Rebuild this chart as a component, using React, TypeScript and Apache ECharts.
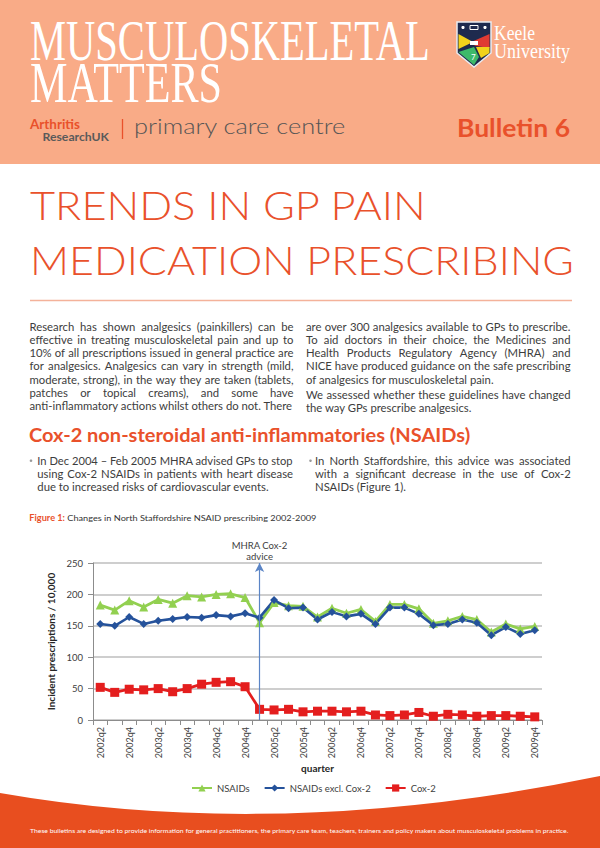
import React, { useEffect, useRef } from 'react';
import * as echarts from 'echarts';

// ---------------- DATA ----------------
const quarters = [
  '2002q2', '2002q3', '2002q4',
  '2003q1', '2003q2', '2003q3', '2003q4',
  '2004q1', '2004q2', '2004q3', '2004q4',
  '2005q1', '2005q2', '2005q3', '2005q4',
  '2006q1', '2006q2', '2006q3', '2006q4',
  '2007q1', '2007q2', '2007q3', '2007q4',
  '2008q1', '2008q2', '2008q3', '2008q4',
  '2009q1', '2009q2', '2009q3', '2009q4',
];
const nsaids = [
  183, 175, 190,
  180, 192, 186, 198,
  196, 200, 201, 195,
  155, 187, 182, 181,
  164, 178, 170, 176,
  157, 184, 184, 177,
  154, 158, 165, 160,
  140, 153, 145, 149,
];
const nsaidsExclCox2 = [
  153, 150, 164,
  153, 158, 161, 164,
  163, 167, 165, 170,
  163, 191, 178, 179,
  160, 172, 165, 169,
  153, 179, 179, 169,
  151, 153, 160, 155,
  135, 148, 137, 143,
];
const cox2 = [
  52, 44, 49,
  48, 50, 45, 50,
  57, 60, 61, 53,
  17, 16, 17, 13,
  14, 14, 13, 14,
  8, 7, 8, 12,
  6, 9, 8, 6,
  7, 7, 6, 5,
];
const seriesNames = ['NSAIDs', 'NSAIDs excl. Cox-2', 'Cox-2'];
const adviceQuarter = '2005q1';
const adviceLabel = 'MHRA Cox-2\nadvice';
const yMin = 0;
const yMax = 250;
const yStep = 50;

// ---------------- TEXTS ----------------
const headerLine1 = 'MUSCULOSKELETAL';
const headerLine2 = 'MATTERS';
const titleLine1 = 'TRENDS IN GP PAIN';
const titleLine2 = 'MEDICATION PRESCRIBING';
const leftParagraph = [
  'Research has shown analgesics (painkillers) can be',
  'effective in treating musculoskeletal pain and up to',
  '10% of all prescriptions issued in general practice are',
  'for analgesics. Analgesics can vary in strength (mild,',
  'moderate, strong), in the way they are taken (tablets,',
  'patches or topical creams), and some have',
  'anti-inflammatory actions whilst others do not. There',
];
const rightParagraph1 = [
  'are over 300 analgesics available to GPs to prescribe.',
  'To aid doctors in their choice, the Medicines and',
  'Health Products Regulatory Agency (MHRA) and',
  'NICE have produced guidance on the safe prescribing',
  'of analgesics for musculoskeletal pain.',
];
const rightParagraph2 = [
  'We assessed whether these guidelines have changed',
  'the way GPs prescribe analgesics.',
];
const sectionHeading = 'Cox-2 non-steroidal anti-inflammatories (NSAIDs)';
const leftBullet = [
  'In Dec 2004 \u2013 Feb 2005 MHRA advised GPs to stop',
  'using Cox-2 NSAIDs in patients with heart disease',
  'due to increased risks of cardiovascular events.',
];
const rightBullet = [
  'In North Staffordshire, this advice was associated',
  'with a significant decrease in the use of Cox-2',
  'NSAIDs (Figure 1).',
];
const captionLabel = 'Figure 1: ';
const captionText = 'Changes in North Staffordshire NSAID prescribing 2002-2009';
const footerText =
  'These bulletins are designed to provide information for general practitioners, the primary care team, teachers, trainers and policy makers about musculoskeletal problems in practice.';

// ---------------- STYLE ----------------
const ORANGE = '#E9512B';
const SALMON = '#F9AB87';
const FOOTER = '#E84E1F';
const BODY = '#3D3D3D';
const SANS = 'Lato';
const SERIF = 'Liberation Serif';

echarts.graphic.registerShape(
  'footerWave',
  echarts.graphic.extendPath('M0 793 Q 280 842 600 776 L 600 848 L 0 848 Z', {})
);

let ctx: CanvasRenderingContext2D | null = null;
function measure(text: string, size: number, family: string, weight: string | number = 'normal') {
  if (!ctx) ctx = document.createElement('canvas').getContext('2d');
  ctx!.font = `${weight} ${size}px "${family}"`;
  return ctx!.measureText(text).width;
}

function txt(text: string, x: number, y: number, size: number, family: string, color: string,
  weight: string | number = 'normal', scaleX = 1, align = 'left') {
  return {
    type: 'text', x, y, scaleX, silent: true,
    style: {
      text, fill: color, fontSize: size, fontFamily: family, fontWeight: weight,
      textAlign: align, textVerticalAlign: 'middle',
    },
  };
}

function fit(text: string, x: number, y: number, width: number, size: number, family: string,
  color: string, weight: string | number = 'normal') {
  const w = measure(text, size, family, weight);
  return txt(text, x, y, size, family, color, weight, width / w);
}

function line(text: string, x: number, y: number, width: number, size: number, justify: boolean): any[] {
  const natural = measure(text, size, SANS);
  if (natural >= width) return [txt(text, x, y, size, SANS, BODY, 'normal', width / natural)];
  if (!justify) return [txt(text, x, y, size, SANS, BODY)];
  const words = text.split(' ');
  const widths = words.map((w) => measure(w, size, SANS));
  const total = widths.reduce((a, b) => a + b, 0);
  const gap = (width - total) / (words.length - 1);
  const out: any[] = [];
  let cx = x;
  words.forEach((w, i) => {
    out.push(txt(w, cx, y, size, SANS, BODY));
    cx += widths[i] + gap;
  });
  return out;
}

function paragraph(lines: string[], x: number, y0: number, step: number, width: number, size: number) {
  const out: any[] = [];
  lines.forEach((l, i) => {
    out.push(...line(l, x, y0 + i * step, width, size, i < lines.length - 1));
  });
  return out;
}

function buildGraphics() {
  const els: any[] = [];
  // header
  els.push({ type: 'rect', shape: { x: 0, y: 0, width: 600, height: 164 }, style: { fill: SALMON }, silent: true });
  els.push(fit(headerLine1, 30, 41, 400, 56, SERIF, '#FFFFFF'));
  els.push(fit(headerLine2, 30, 83, 192, 56, SERIF, '#FFFFFF'));

  // Keele crest
  const sx = 457, sy = 22;
  const P = (pts: number[][]) => pts.map(([a, b]) => [sx + a, sy + b]);
  els.push({ type: 'polygon', shape: { points: P([[0, 0], [34, 0], [34, 31], [17, 45], [0, 31]]) }, style: { fill: '#1E2A4E', stroke: '#E8ECF2', lineWidth: 1.5 }, silent: true });
  els.push({ type: 'polygon', shape: { points: P([[1.5, 12], [16, 20], [1.5, 27]]) }, style: { fill: '#F2D21B' }, silent: true });
  els.push({ type: 'polygon', shape: { points: P([[32.5, 12], [32.5, 26], [19, 24], [12, 21]]) }, style: { fill: '#E03A33' }, silent: true });
  els.push({ type: 'rect', shape: { x: sx + 13, y: sy + 19, width: 8, height: 4 }, style: { fill: '#FFFFFF' }, silent: true });
  els.push({ type: 'polygon', shape: { points: P([[1.5, 30], [17, 25], [22, 35], [17, 43]]) }, style: { fill: '#3DBA6A' }, silent: true });
  els.push({ type: 'polygon', shape: { points: P([[19, 25], [32.5, 25], [32.5, 31], [24, 36]]) }, style: { fill: '#F2D21B' }, silent: true });
  els.push({ type: 'circle', shape: { cx: sx + 6, cy: sy + 5.5, r: 1.6 }, style: { fill: '#FFFFFF' }, silent: true });
  els.push({ type: 'rect', shape: { x: sx + 13, y: sy + 3.5, width: 8, height: 4 }, style: { fill: 'none', stroke: '#FFFFFF', lineWidth: 1 }, silent: true });
  els.push({ type: 'circle', shape: { cx: sx + 28, cy: sy + 5.5, r: 1.6 }, style: { fill: '#FFFFFF' }, silent: true });
  els.push(txt('7', sx + 14, sy + 35, 8, SANS, '#FFFFFF'));
  els.push(fit('Keele', 494, 33, 41, 20, SERIF, '#FFFFFF'));
  els.push(fit('University', 494, 51, 76, 20, SERIF, '#FFFFFF'));

  // Arthritis Research UK | primary care centre
  els.push(fit('Arthritis', 30, 124, 50, 13, SANS, ORANGE, 'bold'));
  els.push(fit('ResearchUK', 42.5, 136.5, 66.5, 12, SANS, '#5A5A5A', 'bold'));
  els.push({ type: 'line', shape: { x1: 122.5, y1: 119, x2: 122.5, y2: 139 }, style: { stroke: ORANGE, lineWidth: 1.3 }, silent: true });
  els.push(fit('primary care centre', 134, 126, 212, 21, SANS, '#555555', 300));
  els.push(fit('Bulletin 6', 457, 127.5, 113, 25, SANS, ORANGE, 'bold'));

  // Title
  els.push(fit(titleLine1, 30, 205, 397, 40, SANS, ORANGE, 300));
  els.push(fit(titleLine2, 30, 260, 544, 40, SANS, ORANGE, 300));
  els.push({ type: 'line', shape: { x1: 30, y1: 300.5, x2: 572, y2: 300.5 }, style: { stroke: '#F4B29A', lineWidth: 1.5 }, silent: true });

  // body text
  const fs = 11 * 262 / measure(rightParagraph1[0], 11, SANS);
  const step = 13.27;
  els.push(...paragraph(leftParagraph, 29.5, 326, step, 264, fs));
  els.push(...paragraph(rightParagraph1, 306, 326, step, 264.5, fs));
  els.push(...paragraph(rightParagraph2, 306, 394, step, 264.5, fs));
  els.push(fit(sectionHeading, 29, 434.5, 441.5, 19, SANS, ORANGE, 'bold'));
  els.push({ type: 'circle', shape: { cx: 31, cy: 460.7, r: 1.3 }, style: { fill: '#9A9A9A' }, silent: true });
  els.push({ type: 'circle', shape: { cx: 310.5, cy: 460.7, r: 1.3 }, style: { fill: '#9A9A9A' }, silent: true });
  els.push(...paragraph(leftBullet, 37.3, 460.7, 12.8, 255.7, fs));
  els.push(...paragraph(rightBullet, 315, 460.7, 12.8, 255.7, fs));

  // caption
  const cw1 = measure(captionLabel, 8.5, SANS, 'bold');
  const cw2 = measure(captionText, 8.5, SANS);
  const cs = 287.4 / (cw1 + cw2);
  els.push(txt(captionLabel, 29.3, 517.7, 8.5, SANS, ORANGE, 'bold', cs));
  els.push(txt(captionText, 29.3 + cw1 * cs, 517.7, 8.5, SANS, '#333333', 'normal', cs));

  // footer
  els.push({ type: 'footerWave', x: 0, y: 0, style: { fill: FOOTER }, silent: true });
  els.push(fit(footerText, 30, 830, 540, 6.5, SANS, '#FFFFFF'));
  return els;
}

function buildOption(): any {
  const axisText = { color: '#404040', fontFamily: SANS, fontSize: 9 };
  return {
    animation: false,
    backgroundColor: '#FFFFFF',
    graphic: { elements: buildGraphics() },
    grid: { left: 93, right: 58, top: 563, bottom: 128, containLabel: false },
    legend: {
      data: seriesNames,
      top: 778,
      left: 186,
      itemWidth: 20,
      itemHeight: 9,
      itemGap: 14,
      textStyle: { fontSize: 9.5, color: '#404040', fontFamily: SANS },
    },
    xAxis: {
      type: 'category',
      data: quarters,
      boundaryGap: true,
      name: 'quarter',
      nameLocation: 'middle',
      nameGap: 43,
      nameTextStyle: { fontWeight: 'bold', fontSize: 10, color: '#262626', fontFamily: SANS },
      axisLine: { show: true, lineStyle: { color: '#8C8C8C', width: 1 } },
      axisTick: { show: true, interval: 0, length: 5, lineStyle: { color: '#8C8C8C' } },
      axisLabel: { ...axisText, rotate: 90, interval: 1, margin: 7 },
      splitLine: { show: false },
    },
    yAxis: {
      type: 'value',
      min: yMin,
      max: yMax,
      interval: yStep,
      name: 'Incident prescriptions / 10,000',
      nameLocation: 'middle',
      nameGap: 27,
      nameTextStyle: { fontWeight: 'bold', fontSize: 10, color: '#262626', fontFamily: SANS },
      axisLine: { show: true, lineStyle: { color: '#8C8C8C', width: 1 } },
      axisTick: { show: true, length: 5, lineStyle: { color: '#8C8C8C' } },
      axisLabel: { ...axisText, fontSize: 9.5, margin: 10 },
      splitLine: { show: true, lineStyle: { color: '#BEBEBE', width: 1.5 } },
    },
    series: [
      {
        name: seriesNames[0],
        type: 'line',
        data: nsaids,
        symbol: 'triangle',
        symbolSize: 9,
        lineStyle: { color: '#92D050', width: 2.8 },
        itemStyle: { color: '#92D050' },
        markLine: {
          silent: true,
          symbol: ['none', 'arrow'],
          symbolSize: [7, 9],
          lineStyle: { color: '#5B85C6', type: 'solid', width: 1.2 },
          label: {
            show: true,
            position: 'end',
            distance: 1,
            formatter: adviceLabel,
            color: '#404040',
            fontFamily: SANS,
            fontSize: 9.5,
            lineHeight: 11,
          },
          data: [{ xAxis: adviceQuarter }],
        },
      },
      {
        name: seriesNames[1],
        type: 'line',
        data: nsaidsExclCox2,
        symbol: 'diamond',
        symbolSize: 8,
        lineStyle: { color: '#25529B', width: 2.6 },
        itemStyle: { color: '#25529B' },
      },
      {
        name: seriesNames[2],
        type: 'line',
        data: cox2,
        symbol: 'rect',
        symbolSize: 9,
        lineStyle: { color: '#E41E1E', width: 2.8 },
        itemStyle: { color: '#E41E1E' },
      },
    ],
  };
}

export default function App() {
  const ref = useRef<HTMLDivElement>(null);
  useEffect(() => {
    document.body.style.margin = '0';
    const chart = echarts.init(ref.current!, null, { renderer: 'svg' });
    chart.setOption(buildOption());
    return () => chart.dispose();
  }, []);
  return (
    <div
      ref={ref}
      style={{ width: 600, height: 848, position: 'absolute', left: 0, top: 0, background: '#FFFFFF' }}
    />
  );
}
